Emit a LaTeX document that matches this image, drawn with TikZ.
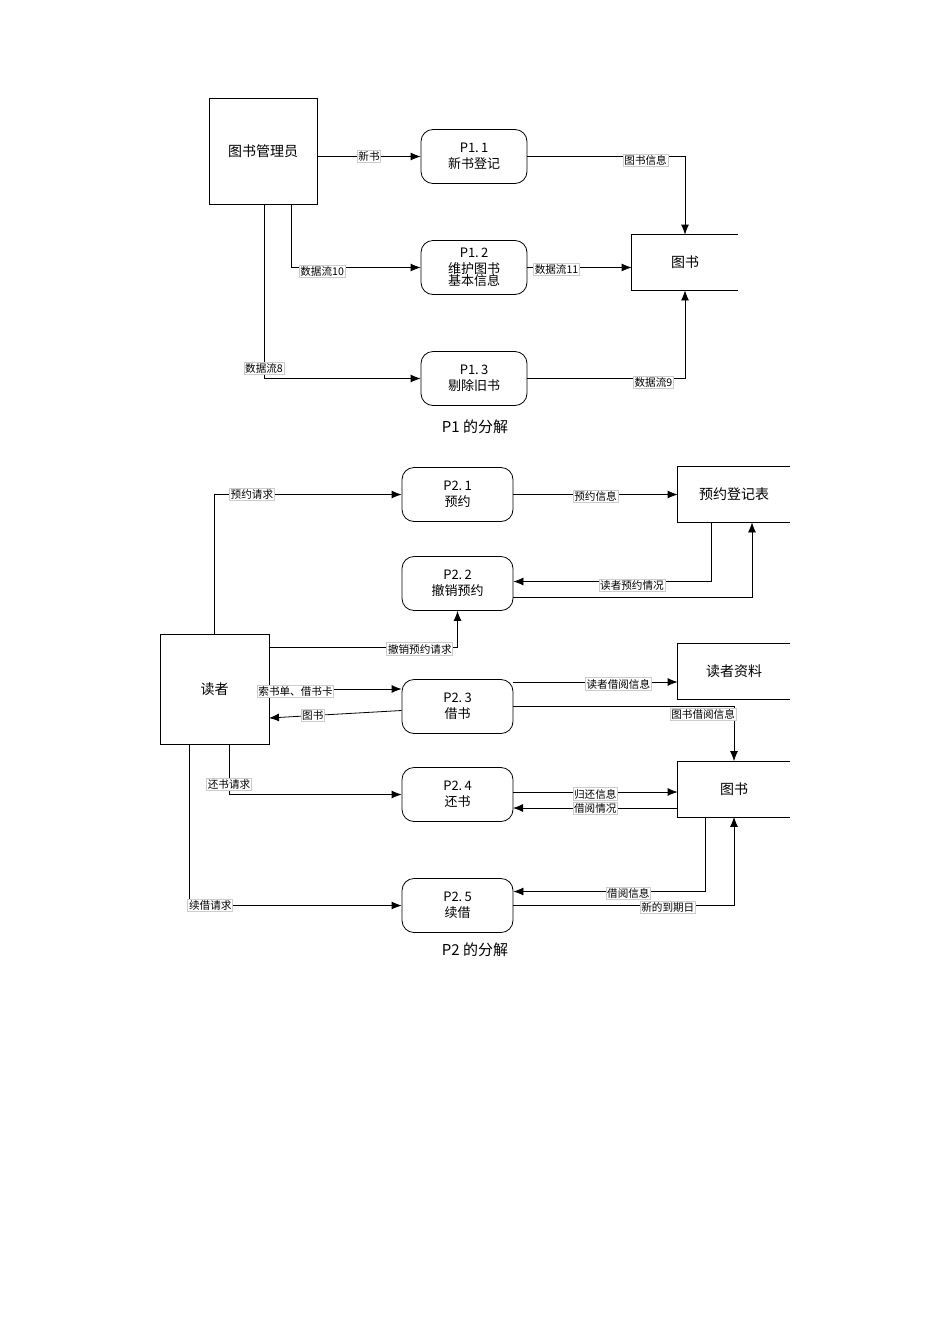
\documentclass[tikz,border=0pt]{standalone}
\usepackage{fontspec}
\setmainfont{Noto Sans CJK SC}
\usepackage{tikz}
\usetikzlibrary{arrows.meta}

\tikzset{
  ext/.style={draw, thin, minimum width=54pt, minimum height=53pt, inner sep=0pt, font=\fontsize{7}{8}\selectfont},
  store/.style={minimum width=#1, minimum height=27.5pt, inner sep=0pt, font=\fontsize{7}{8}\selectfont},
  proc/.style={draw, thin, rounded corners=6pt, minimum width=#1, minimum height=27pt, inner sep=0pt, align=center, font=\fontsize{6.5}{8}\selectfont},
  flow/.style={thin, -{Latex[length=5pt,width=4pt]}},
  line/.style={thin},
  lbl/.style={draw=gray!40, fill=white, inner sep=0.6pt, font=\fontsize{5.3}{6}\selectfont},
  title/.style={font=\fontsize{7.5}{9}\selectfont}
}

\begin{document}
\begin{tikzpicture}[x=0.5pt, y=-0.5pt]
  \useasboundingbox (0,0) rectangle (950,1344);

  % P1
  \node[ext] (mgr) at (263,151.5) {图书管理员};
  \node[proc=53pt] (p11) at (474,156.5) {P1.\,1\\新书登记};
  \node[proc=53pt] (p12) at (474,267.5) {P1.\,2\\维护图书\\[-2pt]基本信息};
  \node[proc=53pt] (p13) at (474,378.5) {P1.\,3\\剔除旧书};
  \node[store=53pt] (bk1) at (685,262.5) {图书};
  \draw[line] (bk1.north east) -- (bk1.north west) -- (bk1.south west) -- (bk1.south east);
  \node[title] (c1) at (475,427) {P1 的分解};

  \draw[flow] (mgr.east |- p11) -- node[lbl, pos=.5]{新书} (p11.west);
  \draw[flow] (p11.east) -- node[lbl, pos=.75, yshift=-2pt]{图书信息} (p11.east -| bk1) -- (bk1.north);
  \coordinate (m10) at (291,204);
  \coordinate (m8) at (264,204);
  \draw[flow] (m10) |- node[lbl, pos=.62, yshift=-2pt]{数据流10} (p12.west);
  \draw[flow] (p12.east) -- node[lbl, pos=.28, yshift=-1pt]{数据流11} (bk1.west |- p12);
  \draw[flow] (m8) |- node[lbl, pos=.47]{数据流8} (p13.west);
  \draw[flow] (p13.east) -| node[lbl, pos=.4, yshift=-2pt]{数据流9} (bk1.south);

  % P2
  \node[ext, minimum width=54.5pt, minimum height=55pt] (rdr) at (214.5,689) {读者};
  \node[proc=55.5pt] (p21) at (457.5,494.5) {P2.\,1\\预约};
  \node[proc=55.5pt] (p22) at (457.5,583.5) {P2.\,2\\撤销预约};
  \node[proc=55.5pt] (p23) at (457.5,706.5) {P2.\,3\\借书};
  \node[proc=55.5pt] (p24) at (457.5,794.5) {P2.\,4\\还书};
  \node[proc=55.5pt] (p25) at (457.5,905.5) {P2.\,5\\续借};
  \node[store=56pt] (resv) at (734,494.5) {预约登记表};
  \node[store=56pt] (info) at (734,671.5) {读者资料};
  \node[store=56pt] (bk2) at (734,789) {图书};
  \foreach \s in {resv, info, bk2}
    \draw[line] (\s.north east) -- (\s.north west) -- (\s.south west) -- (\s.south east);
  \node[title] (c2) at (475,950) {P2 的分解};

  \draw[flow] (rdr.north) |- node[lbl, pos=.6]{预约请求} (p21.west);
  \draw[flow] (p21.east) -- node[lbl, pos=.5, yshift=-1pt]{预约信息} (resv.west);
  \draw[flow] ([xshift=-11.5pt]resv.south) |- node[lbl, pos=.7, yshift=-2pt]{读者预约情况} ([yshift=1pt]p22.east);
  \draw[flow] ([yshift=-7pt]p22.east) -| ([xshift=9pt]resv.south);
  \coordinate (r2) at (269,647);
  \draw[flow] (r2) -| node[lbl, pos=.4, yshift=-1pt]{撤销预约请求} (p22.south);
  \coordinate (r3) at (269,689);
  \draw[flow] (r3) -- node[lbl, pos=.2, yshift=-1pt]{索书单、借书卡} (p23.west |- r3);
  \coordinate (r3b) at (269,718);
  \draw[flow] ([yshift=-2pt]p23.west) -- node[lbl, pos=.67]{图书} (r3b);
  \coordinate (q3) at (513,682);
  \draw[flow] (q3) -- node[lbl, pos=.64, yshift=-1pt]{读者借阅信息} (info.west |- q3);
  \draw[flow] (p23.east) -| node[lbl, pos=.43, yshift=-4pt]{图书借阅信息} (bk2.north);
  \coordinate (r4) at (229,744);
  \coordinate (r5) at (189,744);
  \draw[flow] (r4) |- node[lbl, pos=.4]{还书请求} (p24.west);
  \coordinate (q4a) at (513,792);
  \coordinate (q4b) at (513,808);
  \draw[flow] (q4a) -- node[lbl, pos=.5, yshift=-1pt]{归还信息} (bk2.west |- q4a);
  \draw[flow] (bk2.west |- q4b) -- node[lbl, pos=.5]{借阅情况} (q4b);
  \draw[flow] (r5) |- node[lbl, pos=.55]{续借请求} (p25.west);
  \draw[flow] ([xshift=-14.5pt]bk2.south) |- node[lbl, pos=.7, yshift=-1pt]{借阅信息} ([yshift=7pt]p25.east);
  \draw[flow] (p25.east) -| node[lbl, pos=.35, yshift=-1pt]{新的到期日} (bk2.south);
\end{tikzpicture}
\end{document}
